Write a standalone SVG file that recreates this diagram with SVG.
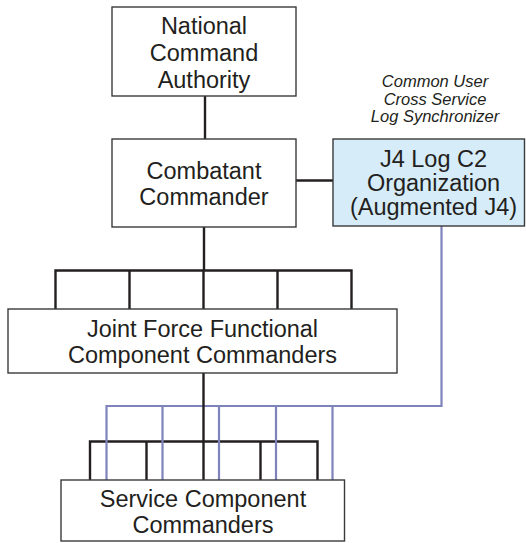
<svg xmlns="http://www.w3.org/2000/svg" width="526" height="543" viewBox="0 0 526 543">
<style>
.box{fill:#ffffff;stroke:#3a3a3a;stroke-width:1.4}
.j4{fill:#d6ecf9;stroke:#3a3a3a;stroke-width:1.4}
.t{font-family:"Liberation Sans",Arial,sans-serif;font-size:23.5px;fill:#231f20;text-anchor:middle}
.it{font-family:"Liberation Sans",Arial,sans-serif;font-size:16.5px;font-style:italic;fill:#231f20;text-anchor:middle}
.k{fill:none;stroke:#231f20;stroke-width:2.4}
.p{fill:none;stroke:#7f83bb;stroke-width:2.2}
</style>
<rect width="526" height="543" fill="#ffffff"/>
<g id="connectors">
<path class="k" d="M205,96 V139"/>
<path class="k" d="M296,180.5 H333"/>
<path class="k" d="M204,227 V270.5 M55.5,309 V270.5 H351.5 V309 M129.5,270.5 V309 M277.5,270.5 V309 M203.5,270.5 V309"/>
<path class="k" d="M90,480 V441.5 H317.5 V480 M146.5,441.5 V480 M260.5,441.5 V480"/>
<path class="p" d="M441.5,226 V406 H106.5 V480 M162.5,406 V480 M219,406 V480 M276,406 V480 M332.5,406 V480"/>
<path class="k" d="M203.5,373 V480"/>
</g>
<g id="nca">
<rect class="box" x="112" y="7" width="184" height="89"/>
<text class="t" x="204" y="33.5">National</text>
<text class="t" x="204" y="60.5">Command</text>
<text class="t" x="204" y="87.5">Authority</text>
</g>
<g id="combatant">
<rect class="box" x="112" y="139" width="184" height="88"/>
<text class="t" x="204" y="179">Combatant</text>
<text class="t" x="204" y="204.5">Commander</text>
</g>
<g id="synchronizer-label">
<text class="it" x="435" y="87">Common User</text>
<text class="it" x="435" y="104.5">Cross Service</text>
<text class="it" x="435" y="122">Log Synchronizer</text>
</g>
<g id="j4">
<rect class="j4" x="333" y="139" width="191.5" height="87"/>
<text class="t" x="433.5" y="166.5">J4 Log C2</text>
<text class="t" x="433.5" y="190.5">Organization</text>
<text class="t" x="433.5" y="214.5">(Augmented J4)</text>
</g>
<g id="jffcc">
<rect class="box" x="8" y="309" width="389" height="64"/>
<text class="t" x="202.5" y="337">Joint Force Functional</text>
<text class="t" x="202.5" y="363">Component Commanders</text>
</g>
<g id="scc">
<rect class="box" x="61" y="480" width="283.5" height="61"/>
<text class="t" x="203" y="506.5">Service Component</text>
<text class="t" x="203" y="533">Commanders</text>
</g>
</svg>
